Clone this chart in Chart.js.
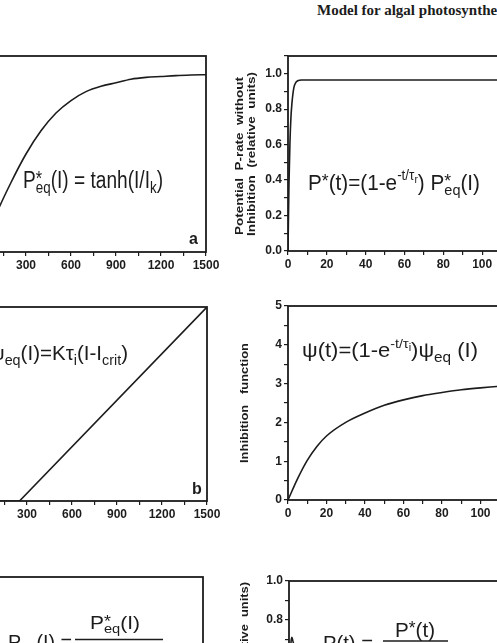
<!DOCTYPE html>
<html>
<head>
<meta charset="utf-8">
<script src="https://cdn.jsdelivr.net/npm/chart.js@4.4.0/dist/chart.umd.min.js"></script>
<style>
  html, body { margin: 0; padding: 0; background: #fff; }
  #page { position: relative; width: 497px; height: 643px; overflow: hidden; background: #fff; }
  #page canvas { position: absolute; }
  #header { position: absolute; left: 317px; top: 3px; font: bold 15px 'Liberation Serif', 'Times New Roman', serif; line-height: 15px; color: #1c1c1c; white-space: nowrap; }
</style>
</head>
<body>
<div id="page">
  <div id="header">Model for algal photosynthesis</div>
</div>
<script>
'use strict';

// panel a: P*eq(I) against irradiance
let lightA = [0, 100, 200, 300, 400, 500, 600, 700, 800, 900, 1000, 1100, 1200, 1300, 1400, 1500];
let pEqStar = [0, 0.21, 0.39, 0.55, 0.68, 0.78, 0.85, 0.9, 0.93, 0.95, 0.97, 0.98, 0.985, 0.99, 0.993, 0.995];

// panel b: psi_eq(I)
let lightB = [0, 250, 1500];
let psiEq = [0, 0, 5];

// panel c: Peq(I) (below the visible part of the page)
let lightC = [0, 100, 200, 250, 300, 400, 500, 600, 800, 1000, 1200, 1500];
let pEq = [0, 0.21, 0.39, 0.47, 0.46, 0.43, 0.39, 0.35, 0.29, 0.24, 0.2, 0.17];

// right top: P*(t)
let timeD = [0, 0.5, 1, 1.5, 2, 3, 4, 5, 7, 10, 20, 40, 60, 80, 100, 120];
let pStarT = [0, 0.38, 0.61, 0.75, 0.83, 0.92, 0.95, 0.96, 0.965, 0.965, 0.965, 0.965, 0.965, 0.965, 0.965, 0.965];

// right middle: psi(t)
let timeE = [0, 5, 10, 15, 20, 30, 40, 50, 60, 70, 80, 90, 100, 110, 120];
let psiT = [0, 0.55, 1.02, 1.38, 1.65, 2.0, 2.24, 2.44, 2.58, 2.69, 2.77, 2.84, 2.89, 2.93, 2.96];

// right bottom: P(t)
let timeF = [0, 0.5, 1, 1.5, 2, 3, 4, 6, 10, 20, 40, 60, 80, 100, 120];
let pNetT = [0, 0.5, 0.68, 0.71, 0.69, 0.66, 0.63, 0.59, 0.53, 0.4, 0.3, 0.27, 0.255, 0.247, 0.243];

let xTicksLight = [300, 600, 900, 1200, 1500];
let xTicksTime = [0, 20, 40, 60, 80, 100];
let yTicksRel = ['0.0', '0.2', '0.4', '0.6', '0.8', '1.0'];
let yTicksInh = ['0', '1', '2', '3', '4', '5'];

const ink = '#1c1c1c';
const sans = "'Liberation Sans', Arial, sans-serif";
const Y_W = 60;
const X_H = 30;
const PAD_T = 12;
const PAD_R = 24;

function pairs(xs, ys) {
  return xs.map((x, i) => ({ x: x, y: ys[i] }));
}

function sub(t) { return { t: t, s: 0.7, dy: 0.22 }; }
function sup(t) { return { t: t, s: 0.65, dy: -0.45 }; }
function star() { return { t: '*', s: 0.85, dy: -0.12 }; }
function starEq() { return { stack: [star(), sub('eq')] }; }

function drawRich(ctx, item) {
  let base = item.size;
  let setFont = s => { ctx.font = (base * s).toFixed(1) + 'px ' + sans; };
  let parts = item.parts.map(p => (typeof p === 'string' ? { t: p, s: 1, dy: 0 } : p));
  let partWidth = p => {
    let list = p.stack ? p.stack : [p];
    return Math.max(...list.map(q => { setFont(q.s); return ctx.measureText(q.t).width; }));
  };
  let natural = parts.reduce((w, p) => w + partWidth(p), 0);
  ctx.save();
  ctx.translate(item.x, item.y);
  ctx.scale(item.width / natural, 1);
  ctx.fillStyle = ink;
  ctx.textAlign = 'left';
  ctx.textBaseline = 'alphabetic';
  let cx = 0;
  parts.forEach(p => {
    let w = partWidth(p);
    let list = p.stack ? p.stack : [p];
    list.forEach(q => { setFont(q.s); ctx.fillText(q.t, cx, q.dy * base); });
    cx += w;
  });
  ctx.restore();
}

function drawLabel(ctx, item) {
  ctx.save();
  ctx.translate(item.x, item.y);
  if (item.rotate) ctx.rotate(item.rotate * Math.PI / 180);
  ctx.font = item.font;
  ctx.fillStyle = ink;
  ctx.textAlign = item.align || 'center';
  ctx.textBaseline = item.baseline || 'middle';
  if (item.span) {
    let w = ctx.measureText(item.text).width;
    ctx.scale(item.span / w, 1);
  }
  ctx.fillText(item.text, 0, 0);
  ctx.restore();
}

// frame + page texts; items kept in a closure so Chart.js does not resolve them
function paperText(ox, oy, items) {
  return {
    id: 'paperText',
    afterDraw(chart) {
      let ctx = chart.ctx;
      let a = chart.chartArea;
      ctx.save();
      ctx.strokeStyle = ink;
      ctx.lineWidth = 1.8;
      ctx.strokeRect(a.left, a.top, a.right - a.left, a.bottom - a.top);
      ctx.translate(-ox, -oy);
      items.forEach(item => {
        if (item.kind === 'rich') drawRich(ctx, item);
        else if (item.kind === 'bar') {
          ctx.lineWidth = 1.5;
          ctx.beginPath();
          ctx.moveTo(item.x1, item.y);
          ctx.lineTo(item.x2, item.y);
          ctx.stroke();
        } else drawLabel(ctx, item);
      });
      ctx.restore();
    }
  };
}

function axisFont() {
  return { family: sans, size: 12, weight: 'bold' };
}

function xAxis(min, max, step, labels) {
  return {
    type: 'linear', min: min, max: max,
    border: { display: false },
    grid: { drawOnChartArea: false, drawTicks: true, tickLength: 4, color: ink, lineWidth: 1.2 },
    ticks: {
      stepSize: step, autoSkip: false, maxRotation: 0, padding: 2, color: ink, font: axisFont(),
      callback: v => (labels.includes(v) ? String(v) : '')
    },
    afterFit: s => { s.height = X_H; s.paddingLeft = 0; s.paddingRight = 0; }
  };
}

function yAxis(min, max, step, labels) {
  return {
    type: 'linear', min: min, max: max,
    border: { display: false },
    grid: { drawOnChartArea: false, drawTicks: true, tickLength: 4, color: ink, lineWidth: 1.2 },
    ticks: {
      stepSize: step, autoSkip: false, padding: 2, color: ink, font: axisFont(),
      callback: v => {
        let hit = labels.find(l => Math.abs(parseFloat(l) - v) < 1e-6);
        return hit === undefined ? '' : hit;
      }
    },
    afterFit: s => { s.width = Y_W; s.paddingTop = 0; s.paddingBottom = 0; }
  };
}

function makePanel(area, points, scales, items, smooth) {
  let canvas = document.createElement('canvas');
  let left = area.l - Y_W;
  let top = area.t - PAD_T;
  let w = (area.r - area.l) + Y_W + PAD_R;
  let h = (area.b - area.t) + PAD_T + X_H;
  canvas.width = w;
  canvas.height = h;
  canvas.style.left = left + 'px';
  canvas.style.top = top + 'px';
  canvas.style.width = w + 'px';
  canvas.style.height = h + 'px';
  document.getElementById('page').appendChild(canvas);

  let line = {
    data: points,
    borderColor: ink,
    borderWidth: 1.6,
    pointRadius: 0,
    fill: false,
    tension: 0
  };
  if (smooth !== false) line.cubicInterpolationMode = 'monotone';

  return new Chart(canvas, {
    type: 'line',
    data: { datasets: [line] },
    options: {
      responsive: false,
      animation: false,
      devicePixelRatio: 1,
      layout: { padding: { left: 0, top: PAD_T, right: PAD_R, bottom: 0 } },
      plugins: {
        legend: { display: false },
        tooltip: { enabled: false }
      },
      scales: scales
    },
    plugins: [paperText(left, top, items)]
  });
}

// a
makePanel({ l: -19, r: 206, t: 56, b: 252 }, pairs(lightA, pEqStar),
  { x: xAxis(0, 1500, 150, xTicksLight), y: yAxis(0, 1.1, 0.1, yTicksRel) },
  [
    { kind: 'rich', x: 23, y: 188, size: 23, width: 140, parts: ['P', starEq(), '(I) = tanh(I/I', sub('k'), ')'] },
    { kind: 'text', x: 193.5, y: 244, text: 'a', font: 'bold 16px ' + sans, baseline: 'alphabetic' }
  ]);

// b
makePanel({ l: -18, r: 207, t: 307, b: 501 }, pairs(lightB, psiEq),
  { x: xAxis(0, 1500, 150, xTicksLight), y: yAxis(0, 5, 0.5, yTicksInh) },
  [
    { kind: 'rich', x: -10, y: 360, size: 21, width: 138, parts: ['\u03C8', sub('eq'), '(I)=K\u03C4', sub('i'), '(I-I', sub('crit'), ')'] },
    { kind: 'text', x: 197, y: 494, text: 'b', font: 'bold 16px ' + sans, baseline: 'alphabetic' }
  ], false);

// c
makePanel({ l: -22, r: 203, t: 577, b: 773 }, pairs(lightC, pEq),
  { x: xAxis(0, 1500, 150, xTicksLight), y: yAxis(0, 1.1, 0.1, yTicksRel) },
  [
    { kind: 'rich', x: 90, y: 629, size: 19, width: 50, parts: ['P', starEq(), '(I)'] },
    { kind: 'bar', x1: 75, x2: 163, y: 639.5 },
    { kind: 'rich', x: 8, y: 649, size: 21, width: 64, parts: ['P', sub('eq'), '(I) ='] }
  ]);

// right top
makePanel({ l: 288, r: 521, t: 56, b: 251 }, pairs(timeD, pStarT),
  { x: xAxis(0, 120, 10, xTicksTime), y: yAxis(0, 1.1, 0.1, yTicksRel) },
  [
    { kind: 'rich', x: 308, y: 190, size: 22, width: 172,
      parts: ['P', star(), '(t)=(1-e', sup('-t/\u03C4'), { t: 'r', s: 0.5, dy: -0.3 }, ') P', starEq(), '(I)'] },
    { kind: 'text', x: 240, y: 156, rotate: -90, text: 'Potential  P-rate  without', font: 'bold 11px ' + sans, span: 158 },
    { kind: 'text', x: 252, y: 154, rotate: -90, text: 'Inhibition  (relative  units)', font: 'bold 11px ' + sans, span: 164 }
  ]);

// right middle
makePanel({ l: 288, r: 519, t: 306, b: 500 }, pairs(timeE, psiT),
  { x: xAxis(0, 120, 10, xTicksTime), y: yAxis(0, 5, 0.5, yTicksInh) },
  [
    { kind: 'rich', x: 302, y: 357, size: 21, width: 176,
      parts: ['\u03C8(t)=(1-e', sup('-t/\u03C4'), { t: 'i', s: 0.5, dy: -0.3 }, ')\u03C8', sub('eq'), ' (I)'] },
    { kind: 'text', x: 245, y: 403, rotate: -90, text: 'Inhibition   function', font: 'bold 11px ' + sans, span: 120 }
  ]);

// right bottom
makePanel({ l: 289, r: 522, t: 581, b: 775 }, pairs(timeF, pNetT),
  { x: xAxis(0, 120, 10, xTicksTime), y: yAxis(0, 1.0, 0.1, yTicksRel) },
  [
    { kind: 'rich', x: 395, y: 636.5, size: 21, width: 40, parts: ['P', star(), '(t)'] },
    { kind: 'bar', x1: 383, x2: 448, y: 641 },
    { kind: 'rich', x: 323, y: 650, size: 21, width: 50, parts: ['P(t) ='] },
    { kind: 'text', x: 245, y: 582, rotate: -90, align: 'right', text: 'P-rate  (relative  units)', font: 'bold 11px ' + sans, span: 135 }
  ]);
</script>
</body>
</html>
